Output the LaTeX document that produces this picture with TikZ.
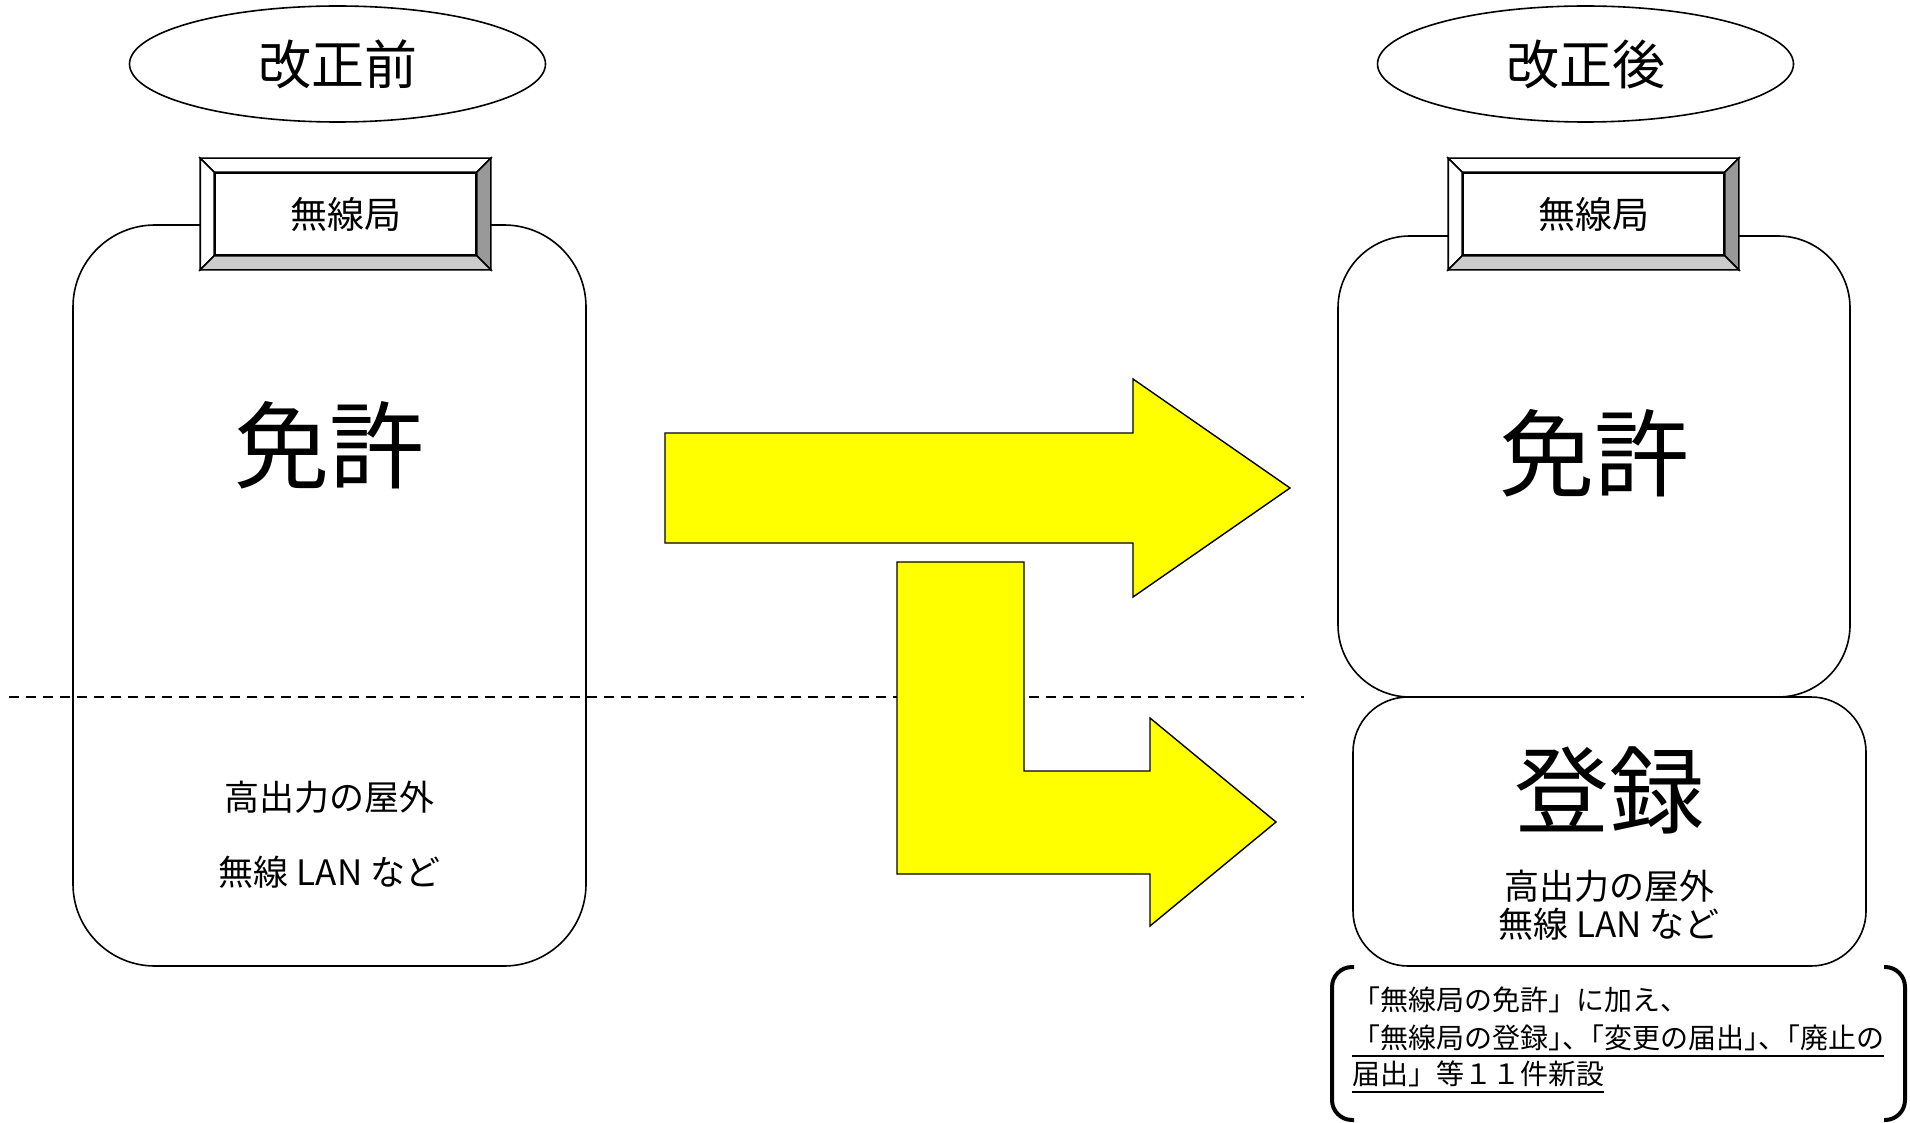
\documentclass[tikz,border=0pt]{standalone}
\usepackage{fontspec}
\setmainfont{Noto Sans CJK JP}
\usetikzlibrary{shapes.geometric,calc}
\definecolor{arrowyellow}{RGB}{255,255,0}
\definecolor{bevellight}{RGB}{204,204,204}
\definecolor{beveldark}{RGB}{153,153,153}
\tikzset{
  outline/.style={draw=black, line width=1.6pt},
  panel/.style={outline, fill=white},
  era/.style={ellipse, outline, fill=white, minimum width=416pt, minimum height=116pt, font=\fontsize{53}{60}\selectfont},
  plaque/.style={outline, fill=white, minimum width=261pt, minimum height=82pt, inner sep=0pt, font=\fontsize{37}{40}\selectfont},
  bigword/.style={font=\fontsize{95}{100}\selectfont},
  smallword/.style={align=center, font=\fontsize{35}{75}\selectfont},
  noteline/.style={anchor=base west, inner sep=0pt, font=\fontsize{28}{34}\selectfont},
  blockarrow/.style={fill=arrowyellow, draw=black, line width=1.4pt, line join=miter},
  splitline/.style={draw=black, line width=1.4pt, dash pattern=on 10pt off 7pt},
  bracket/.style={draw=black, line width=4pt, rounded corners=20pt},
}

\begin{document}
\begin{tikzpicture}[x=1pt, y=-1pt]
    \useasboundingbox (0,0) rectangle (1910,1123);

    % Headings
    \node[era] (before) at (337.5,64) {改正前};
    \node[era] (after) at (1585.5,64) {改正後};

    % Panels
    \draw[panel, rounded corners=82pt] (73,225) rectangle (586,966);
    \draw[panel, rounded corners=72pt] (1338,236) rectangle (1850,697);
    \draw[panel, rounded corners=55pt] (1353,697) rectangle (1866,966);

    % Station plaques
    \node[plaque] (stationL) at (345.5,214) {無線局};
    \node[plaque] (stationR) at (1593.5,214) {無線局};
    \foreach \st in {stationL,stationR}{
      \filldraw[outline, fill=white] ($(\st.north west)+(-14,-14)$) -- ($(\st.north east)+(14,-14)$) -- (\st.north east) -- (\st.north west) -- cycle;
      \filldraw[outline, fill=white] ($(\st.north west)+(-14,-14)$) -- (\st.north west) -- (\st.south west) -- ($(\st.south west)+(-14,14)$) -- cycle;
      \filldraw[outline, fill=beveldark] ($(\st.north east)+(14,-14)$) -- ($(\st.south east)+(14,14)$) -- (\st.south east) -- (\st.north east) -- cycle;
      \filldraw[outline, fill=bevellight] (\st.south west) -- (\st.south east) -- ($(\st.south east)+(14,14)$) -- ($(\st.south west)+(-14,14)$) -- cycle;
    }

    % Words in the panels
    \node[bigword] (licenseL) at (329.5,445) {免許};
    \node[smallword] (examplesL) at (329.5,835) {高出力の屋外\\無線 LAN など};
    \node[bigword] (licenseR) at (1594,453) {免許};
    \node[bigword] (registerR) at (1609,790) {登録};
    \node[align=center, font=\fontsize{35}{38}\selectfont] (examplesR) at (1609,905) {高出力の屋外\\無線 LAN など};

    % Split line
    \draw[splitline] (9,697) -- (1304,697);

    % Arrows
    \draw[blockarrow] (665,433) -- (1133,433) -- (1133,379) -- (1290,488) -- (1133,597) -- (1133,543) -- (665,543) -- cycle;
    \draw[blockarrow] (897,562) -- (1024,562) -- (1024,771) -- (1150,771) -- (1150,718) -- (1276,822) -- (1150,926) -- (1150,874) -- (897,874) -- cycle;

    % Note
    \draw[bracket] (1354,967) -- (1332,967) -- (1332,1120) -- (1354,1120);
    \draw[bracket] (1884,967) -- (1905,967) -- (1905,1120) -- (1884,1120);
    \node[noteline] (note1) at (1352,1010) {「無線局の免許」に加え、};
    \node[noteline] (note2) at (1352,1048) {「無線局の登録」\kern-.5em、\kern-.5em「変更の届出」\kern-.5em、\kern-.5em「廃止の};
    \node[noteline] (note3) at (1352,1084) {届出」等１１件新設};
    \draw[line width=1.4pt] ($(note2.base west)+(0,8)$) -- ($(note2.base east)+(0,8)$);
    \draw[line width=1.4pt] ($(note3.base west)+(0,8)$) -- ($(note3.base east)+(0,8)$);
\end{tikzpicture}
\end{document}
